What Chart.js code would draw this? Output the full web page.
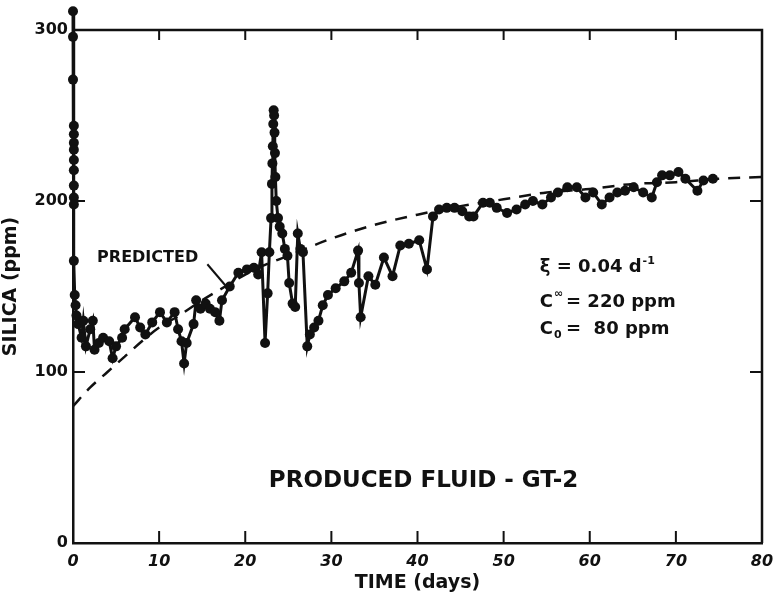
<!DOCTYPE html>
<html>
<head>
<meta charset="utf-8">
<script src="https://cdn.jsdelivr.net/npm/chart.js@4.4.1/dist/chart.umd.min.js"></script>
<style>
  html, body { margin: 0; padding: 0; background: #fff; }
  #wrap { width: 778px; height: 594px; }
</style>
</head>
<body>
<div id="wrap"><canvas id="chart" width="778" height="594"></canvas></div>
<script>
// measured silica, GT-2 produced fluid (day, ppm)
const obsDays = [
  0, 0, 0, 0.1, 0.1, 0.1, 0.1, 0.1, 0.1, 0.1, 0.1, 0.1, 0.1, 0.2, 0.3, 0.4, 0.6,
  1.0, 1.2, 1.5, 2.0, 2.3, 2.5, 3.0, 3.5, 4.2, 4.6, 5.0, 5.7, 6.0, 7.2, 7.8, 8.4,
  9.2, 10.1, 10.9, 11.8, 12.2, 12.6, 12.9, 13.2, 14.0, 14.3, 14.8, 15.4, 15.9,
  16.5, 17.0, 17.3, 18.2, 19.2, 20.2, 21.0, 21.5, 21.9, 22.3, 22.6, 22.8, 23.0,
  23.1, 23.15, 23.2, 23.25, 23.3, 23.35, 23.4, 23.45, 23.5, 23.6, 23.8, 24.0,
  24.3, 24.6, 24.9, 25.1, 25.5, 25.8, 26.1, 26.4, 26.7, 27.2, 27.5, 28.0, 28.5,
  29.0, 29.6, 30.5, 31.5, 32.3, 33.1, 33.2, 33.4, 34.3, 35.1, 36.1, 37.1, 38.0,
  39.0, 40.2, 41.1, 41.8, 42.5, 43.4, 44.3, 45.2, 46.0, 46.5, 47.6, 48.4, 49.2,
  50.4, 51.5, 52.5, 53.4, 54.5, 55.5, 56.3, 57.4, 58.5, 59.5, 60.4, 61.4, 62.3,
  63.2, 64.1, 65.1, 66.2, 67.2, 67.8, 68.4, 69.3, 70.3, 71.1, 72.5, 73.2, 74.3
];
const obsSilica = [
  311, 296, 271, 244, 239, 234, 230, 224, 218, 209, 202, 198, 165, 145, 139, 133, 128,
  120, 130, 115, 125, 130, 113, 117, 120, 118, 108, 115, 120, 125, 132, 126, 122,
  129, 135, 129, 135, 125, 118, 105, 117, 128, 142, 137, 140, 137,
  135, 130, 142, 150, 158, 160, 161, 157, 170, 117, 146, 170, 190,
  210, 222, 232, 245, 253, 250, 240, 228, 214, 200, 190, 185,
  181, 172, 168, 152, 140, 138, 181, 172, 170, 115, 122, 126, 130,
  139, 145, 149, 153, 158, 171, 152, 132, 156, 151, 167, 156, 174,
  175, 177, 160, 191, 195, 196, 196, 194, 191, 191, 199, 199, 196,
  193, 195, 198, 200, 198, 202, 205, 208, 208, 202, 205, 198, 202,
  205, 206, 208, 205, 202, 211, 215, 215, 217, 213, 206, 212, 213
];

// predicted curve
const predDays = [0, 2, 4, 6, 8, 10, 12, 15, 18, 20, 22, 25, 30, 35, 40, 45, 50, 55, 60, 65, 70, 75, 80];
const predSilica = [80, 91, 100, 109, 118, 126, 132, 142, 151, 157, 162, 168, 178, 186, 192, 197, 201, 205, 207, 210, 211, 213, 214];

const xTicks = [0, 10, 20, 30, 40, 50, 60, 70, 80];
const yTicks = [0, 100, 200, 300];

const observed = obsDays.map((d, i) => ({ x: d, y: obsSilica[i] }));
const predicted = predDays.map((d, i) => ({ x: d, y: predSilica[i] }));

const ink = '#111';
const FONT = 'DejaVu Sans';

// frame, inward ticks and the text written on the plot
const decorations = {
  id: 'decorations',
  afterDatasetsDraw(chart) {
    const ctx = chart.ctx;
    const xs = chart.scales.x, ys = chart.scales.y;
    const a = chart.chartArea;
    ctx.save();
    ctx.strokeStyle = ink;
    ctx.fillStyle = ink;

    // Chart.js skips points outside the chart area; the first sample sits above 300
    chart.getDatasetMeta(0).data.forEach(pt => {
      if (pt.y < a.top - 1) {
        ctx.beginPath();
        ctx.arc(pt.x, pt.y, 5, 0, Math.PI * 2);
        ctx.fill();
      }
    });

    ctx.lineWidth = 2.5;
    // top and right of the box
    ctx.beginPath();
    ctx.moveTo(a.left, a.top);
    ctx.lineTo(a.right, a.top);
    ctx.lineTo(a.right, a.bottom);
    ctx.stroke();

    ctx.lineWidth = 2;
    xTicks.forEach(v => {
      const px = xs.getPixelForValue(v);
      ctx.beginPath();
      ctx.moveTo(px, a.bottom);
      ctx.lineTo(px, a.bottom - 12);
      ctx.moveTo(px, a.top);
      ctx.lineTo(px, a.top + 10);
      ctx.stroke();
    });
    yTicks.forEach(v => {
      const py = ys.getPixelForValue(v);
      ctx.beginPath();
      ctx.moveTo(a.left, py);
      ctx.lineTo(a.left + 12, py);
      ctx.moveTo(a.right, py);
      ctx.lineTo(a.right - 12, py);
      ctx.stroke();
    });

    // PREDICTED label and leader
    ctx.font = 'bold 16px "' + FONT + '"';
    ctx.textAlign = 'left';
    ctx.textBaseline = 'middle';
    ctx.fillText('PREDICTED', xs.getPixelForValue(2.8), ys.getPixelForValue(167));
    ctx.beginPath();
    ctx.lineWidth = 2;
    ctx.moveTo(xs.getPixelForValue(15.6), ys.getPixelForValue(163));
    ctx.lineTo(xs.getPixelForValue(17.8), ys.getPixelForValue(150));
    ctx.stroke();

    // model constants
    ctx.font = 'bold 18px "' + FONT + '"';
    const fx = xs.getPixelForValue(54.2);
    let py = ys.getPixelForValue(161);
    ctx.fillText('\u03BE = 0.04 d', fx, py);
    let w = ctx.measureText('\u03BE = 0.04 d').width;
    ctx.font = 'bold 11px "' + FONT + '"';
    ctx.fillText('-1', fx + w + 1, py - 7);

    ctx.font = 'bold 18px "' + FONT + '"';
    py = ys.getPixelForValue(141);
    ctx.fillText('C', fx, py);
    w = ctx.measureText('C').width;
    ctx.font = 'bold 11px "' + FONT + '"';
    ctx.fillText('\u221E', fx + w + 1, py - 8);
    ctx.font = 'bold 18px "' + FONT + '"';
    ctx.fillText('= 220 ppm', fx + w + 13, py);

    py = ys.getPixelForValue(125);
    ctx.fillText('C', fx, py);
    ctx.font = 'bold 11px "' + FONT + '"';
    ctx.fillText('0', fx + w + 1, py + 6);
    ctx.font = 'bold 18px "' + FONT + '"';
    ctx.fillText('=  80 ppm', fx + w + 13, py);

    // plot caption
    ctx.font = 'bold 23px "' + FONT + '"';
    ctx.textAlign = 'center';
    ctx.fillText('PRODUCED FLUID - GT-2', xs.getPixelForValue(40.7), ys.getPixelForValue(36));

    ctx.restore();
  }
};

new Chart(document.getElementById('chart').getContext('2d'), {
  type: 'scatter',
  data: {
    datasets: [{
      label: 'Observed',
      data: observed,
      showLine: true,
      borderColor: ink,
      backgroundColor: ink,
      borderWidth: 3,
      pointRadius: 5,
      pointBorderWidth: 0,
      tension: 0,
      clip: false
    }, {
      label: 'Predicted',
      data: predicted,
      showLine: true,
      borderColor: ink,
      borderWidth: 2.5,
      borderDash: [12, 9],
      pointRadius: 0,
      cubicInterpolationMode: 'monotone'
    }]
  },
  options: {
    responsive: false,
    animation: false,
    layout: { padding: { top: 30, right: 16, left: 0, bottom: 0 } },
    plugins: { legend: { display: false }, tooltip: { enabled: false } },
    scales: {
      x: {
        type: 'linear',
        min: 0, max: 80,
        afterBuildTicks: s => { s.ticks = xTicks.map(v => ({ value: v })); },
        afterFit: s => { s.height = 51; s.paddingLeft = 0; s.paddingRight = 0; },
        grid: { display: false, drawTicks: false },
        border: { display: true, color: ink, width: 2.5 },
        ticks: { color: ink, padding: 9, font: { family: FONT, size: 16, weight: 'bold', style: 'italic' } },
        title: { display: true, text: 'TIME (days)', color: ink, padding: 0, font: { family: FONT, size: 19, weight: 'bold' } }
      },
      y: {
        type: 'linear',
        min: 0, max: 300,
        afterBuildTicks: s => { s.ticks = yTicks.map(v => ({ value: v })); },
        afterFit: s => { s.width = 73; s.paddingTop = 0; s.paddingBottom = 0; },
        grid: { display: false, drawTicks: false },
        border: { display: true, color: ink, width: 2.5 },
        ticks: { color: ink, padding: 5, font: { family: FONT, size: 16, weight: 'bold' } },
        title: { display: true, text: 'SILICA (ppm)', color: ink, padding: 0, font: { family: FONT, size: 19, weight: 'bold' } }
      }
    }
  },
  plugins: [decorations]
});
</script>
</body>
</html>
